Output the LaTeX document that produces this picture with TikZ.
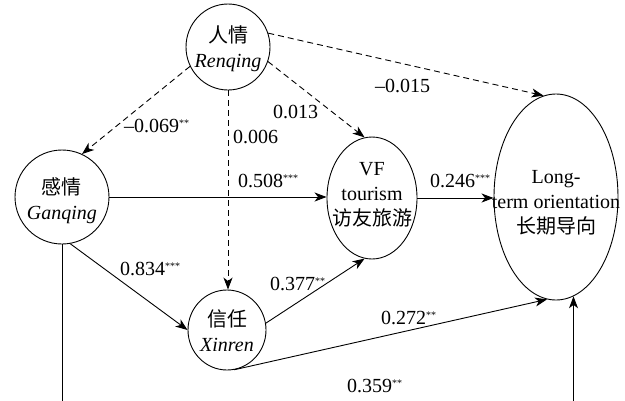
\documentclass[tikz,border=0pt]{standalone}
\usepackage{fontspec}
\setmainfont{Liberation Serif}
\newfontfamily\cjk{Noto Sans CJK SC}
\usetikzlibrary{arrows.meta,shapes.geometric}
\newcommand\sigst[1]{\raisebox{6pt}{\fontsize{10}{10}\selectfont #1}}
\begin{document}
\begin{tikzpicture}[x=1pt,y=-1pt,
  every node/.style={font=\fontsize{20}{25}\selectfont, inner sep=0pt},
  varnode/.style 2 args={draw, ellipse, line width=0.9pt, minimum width=#1, minimum height=#2},
  vtext/.style={align=center},
  coef/.style={anchor=base west},
  solidarrow/.style={-{Stealth[length=12pt,width=9pt,inset=3.5pt]}, line width=0.9pt},
  dasharrow/.style={solidarrow, dash pattern=on 6pt off 4pt}
]
\useasboundingbox (0,0) rectangle (625,400);
\clip (0,0) rectangle (625,400);
\fill[white] (0,0) rectangle (625,400);

\node[varnode={84pt}{86pt}] (ren) at (228,47) {};
\node[vtext] (renT) at (228,48.5) {{\cjk 人情}\\\textit{Renqing}};
\node[varnode={94pt}{94pt}] (gan) at (62,197) {};
\node[vtext] (ganT) at (62,201) {{\cjk 感情}\\\textit{Ganqing}};
\node[varnode={90pt}{122pt}] (vf) at (372,198) {};
\node[vtext] (vfT) at (372,195) {VF\\tourism\\{\cjk 访友旅游}};
\node[varnode={124pt}{206pt}] (lto) at (556,197) {};
\node[vtext] (ltoT) at (556,203) {Long-\\term orientation\\{\cjk 长期导向}};
\node[varnode={78pt}{80pt}] (xin) at (227,330) {};
\node[vtext] (xinT) at (227,331) {{\cjk 信任}\\\textit{Xinren}};

\draw[dasharrow] (ren.207) -- (gan.65);
\draw[dasharrow] (ren.south) -- (ren.south |- xin.north);
\draw[dasharrow] (ren.-20) -- (vf.97);
\draw[dasharrow] (ren.19) -- (lto.97);
\draw[solidarrow] (gan.east) -- (gan.east -| vf.west);
\draw[solidarrow] (vf.east) -- (vf.east -| lto.west);
\draw[solidarrow] (gan.-80) -- (xin.west);
\draw[solidarrow] (xin.10) -- (vf.263);
\draw[solidarrow] (xin.-80) -- (lto.265);
\coordinate (floor) at (0,412);
\draw[solidarrow] (gan.south) |- (floor -| lto.-80) -- (lto.-80);

\node[coef] (c1) at (124,132) {–0.069\sigst{**}};
\node[coef] (c2) at (233,143) {0.006};
\node[coef] (c3) at (273,118) {0.013};
\node[coef] (c4) at (375,92) {–0.015};
\node[coef] (c5) at (238,187) {0.508\sigst{***}};
\node[coef] (c6) at (430,187) {0.246\sigst{***}};
\node[coef] (c7) at (120,275) {0.834\sigst{***}};
\node[coef] (c8) at (270,290) {0.377\sigst{**}};
\node[coef] (c9) at (381,324) {0.272\sigst{**}};
\node[coef] (c10) at (347,392) {0.359\sigst{**}};
\end{tikzpicture}
\end{document}
